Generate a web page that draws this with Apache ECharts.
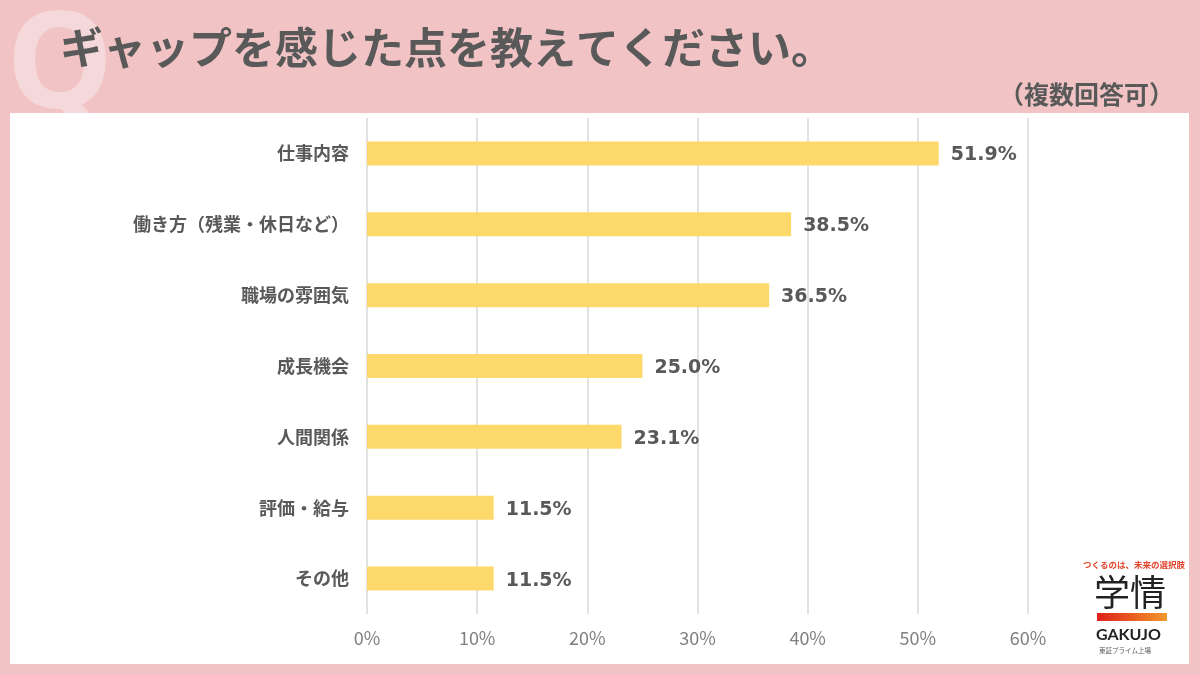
<!DOCTYPE html>
<html>
<head>
<meta charset="utf-8">
<style>
html, body { margin: 0; padding: 0; background: #f1c3c4; }
#myChart { width: 1200px; height: 675px; }
</style>
<script src="https://cdn.jsdelivr.net/npm/echarts@6/dist/echarts.min.js"></script>
</head>
<body>
<div id="myChart"></div>
<script>
// データ
const categories = ['仕事内容', '働き方（残業・休日など）', '職場の雰囲気', '成長機会', '人間関係', '評価・給与', 'その他']
const values = [51.9, 38.5, 36.5, 25.0, 23.1, 11.5, 11.5]
const tickLabels = ['0%', '10%', '20%', '30%', '40%', '50%', '60%']

const font = '"Noto Sans CJK JP", "Noto Sans", sans-serif'
const textColor = '#595959'

let myChart = echarts.init(document.getElementById('myChart'))
myChart.setOption({
  backgroundColor: '#f1c3c4',
  textStyle: { fontFamily: font },
  graphic: [
    // Q の透かし（パネルの後ろ）
    { type: 'text', z: -10, left: 6, top: 2, style: { text: 'Q', fontSize: 135, fontWeight: 'bold', fontFamily: '"Open Sans", sans-serif', fill: '#f5d8d9' } },
    // 白いパネル
    { type: 'rect', z: -5, shape: { x: 10, y: 113, width: 1179, height: 551 }, style: { fill: '#ffffff' } },
    // タイトル
    { type: 'text', left: 60, top: 26, style: { text: 'ギャップを感じた点を教えてください。', fontSize: 43, fontWeight: 'bold', fontFamily: font, fill: textColor } },
    { type: 'text', right: 26, top: 82, style: { text: '（複数回答可）', fontSize: 25, fontWeight: 'bold', fontFamily: font, fill: textColor } },
    // ロゴ
    { type: 'text', left: 1083, top: 561, style: { text: 'つくるのは、未来の選択肢', fontSize: 8.5, fontWeight: 'bold', fontFamily: font, fill: '#e0452b' } },
    { type: 'text', left: 1094, top: 574, style: { text: '学情', fontSize: 36, fontFamily: font, fill: '#222222' } },
    {
      type: 'rect', shape: { x: 1097, y: 613, width: 70, height: 8 },
      style: { fill: new echarts.graphic.LinearGradient(0, 0, 1, 0, [{ offset: 0, color: '#e0201c' }, { offset: 1, color: '#f2992a' }]) }
    },
    { type: 'text', left: 1096, top: 627, style: { text: 'GAKUJO', fontSize: 16, fontWeight: 'bold', fontFamily: 'Lato, sans-serif', fill: '#222222' } },
    { type: 'text', left: 1099, top: 647, style: { text: '東証プライム上場', fontSize: 6.5, fontFamily: font, fill: '#555555' } }
  ],
  grid: { left: 367, right: 172, top: 118, bottom: 61, containLabel: false },
  xAxis: {
    type: 'value',
    min: 0,
    max: 60,
    interval: 10,
    axisLine: { show: false },
    axisTick: { show: false },
    splitLine: { show: true, lineStyle: { color: '#d9d9d9', width: 1.5 } },
    axisLabel: {
      margin: 15,
      fontSize: 18,
      color: '#808080',
      formatter: (v) => tickLabels[v / 10]
    }
  },
  yAxis: {
    type: 'category',
    data: categories,
    inverse: true,
    axisLine: { show: false },
    axisTick: { show: false },
    axisLabel: { margin: 18, fontSize: 18, fontWeight: 'bold', color: textColor }
  },
  series: [
    {
      type: 'bar',
      data: values,
      barWidth: 24,
      itemStyle: { color: '#fdd96c' },
      label: {
        show: true,
        position: 'right',
        distance: 12,
        offset: [0, 2],
        fontSize: 19,
        fontWeight: 'bold',
        color: textColor,
        fontFamily: 'Verdana, "DejaVu Sans", sans-serif',
        formatter: (p) => p.value.toFixed(1) + '%'
      }
    }
  ]
})
</script>
</body>
</html>
